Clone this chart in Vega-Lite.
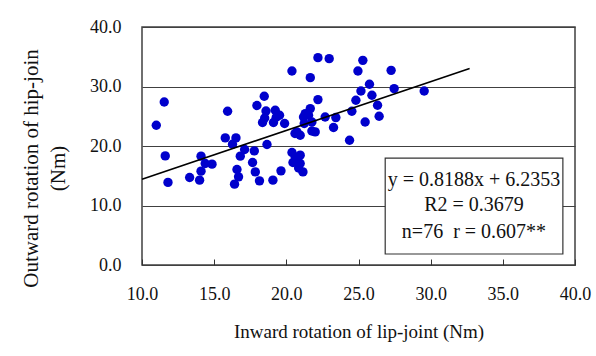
{
  "$schema": "https://vega.github.io/schema/vega-lite/v6.json",
  "width": 433,
  "height": 238,
  "autosize": {"type": "none"},
  "padding": {"left": 142, "top": 27, "right": 21, "bottom": 91},
  "background": "white",
  "config": {
    "font": "Liberation Serif",
    "view": {"stroke": "#404040", "strokeWidth": 1.5},
    "axis": {
      "labelFont": "Liberation Serif",
      "titleFont": "Liberation Serif",
      "labelFontSize": 18,
      "titleFontSize": 19,
      "labelColor": "#111",
      "titleColor": "#111",
      "titleFontWeight": "normal",
      "domain": false
    }
  },
  "datasets": {
    "points": [
      {"inward": 20.39, "outward": 32.6}, {"inward": 11.54, "outward": 27.4}, {"inward": 10.99, "outward": 23.49},
      {"inward": 15.93, "outward": 25.84}, {"inward": 18.47, "outward": 28.36}, {"inward": 17.96, "outward": 26.8},
      {"inward": 18.59, "outward": 25.89}, {"inward": 19.23, "outward": 26.0}, {"inward": 19.53, "outward": 25.17},
      {"inward": 18.35, "outward": 23.94}, {"inward": 19.11, "outward": 23.94}, {"inward": 19.88, "outward": 23.78},
      {"inward": 15.77, "outward": 21.36}, {"inward": 16.51, "outward": 21.36}, {"inward": 16.27, "outward": 20.3},
      {"inward": 18.66, "outward": 20.25}, {"inward": 11.61, "outward": 18.34}, {"inward": 14.09, "outward": 18.29},
      {"inward": 14.38, "outward": 17.06}, {"inward": 14.85, "outward": 16.95}, {"inward": 17.11, "outward": 19.41},
      {"inward": 17.78, "outward": 19.18}, {"inward": 16.81, "outward": 18.29}, {"inward": 17.66, "outward": 17.23},
      {"inward": 14.09, "outward": 15.77}, {"inward": 16.58, "outward": 16.06}, {"inward": 17.85, "outward": 15.65},
      {"inward": 19.63, "outward": 15.82}, {"inward": 20.39, "outward": 18.91}, {"inward": 20.46, "outward": 17.23},
      {"inward": 11.8, "outward": 13.88}, {"inward": 13.3, "outward": 14.71}, {"inward": 13.99, "outward": 14.26},
      {"inward": 16.69, "outward": 14.82}, {"inward": 16.41, "outward": 13.59}, {"inward": 18.14, "outward": 14.14},
      {"inward": 19.07, "outward": 14.26}, {"inward": 22.19, "outward": 34.85}, {"inward": 22.97, "outward": 34.68},
      {"inward": 21.66, "outward": 31.49}, {"inward": 25.3, "outward": 34.4}, {"inward": 24.96, "outward": 32.6},
      {"inward": 27.26, "outward": 32.72}, {"inward": 25.76, "outward": 30.37}, {"inward": 25.17, "outward": 29.24},
      {"inward": 27.47, "outward": 29.65}, {"inward": 29.55, "outward": 29.24}, {"inward": 25.93, "outward": 28.52},
      {"inward": 24.82, "outward": 27.68}, {"inward": 22.19, "outward": 27.8}, {"inward": 26.32, "outward": 26.85},
      {"inward": 24.54, "outward": 25.84}, {"inward": 21.66, "outward": 26.29}, {"inward": 21.31, "outward": 25.45},
      {"inward": 21.19, "outward": 24.88}, {"inward": 21.54, "outward": 25.17}, {"inward": 21.77, "outward": 24.04},
      {"inward": 22.69, "outward": 24.88}, {"inward": 23.43, "outward": 24.78}, {"inward": 26.43, "outward": 25.0},
      {"inward": 25.46, "outward": 24.04}, {"inward": 23.27, "outward": 23.1}, {"inward": 20.73, "outward": 22.37},
      {"inward": 20.96, "outward": 21.81}, {"inward": 21.77, "outward": 22.53}, {"inward": 22.0, "outward": 22.37},
      {"inward": 24.38, "outward": 20.97}, {"inward": 20.96, "outward": 18.46}, {"inward": 20.96, "outward": 17.06},
      {"inward": 21.15, "outward": 15.65}, {"inward": 21.24, "outward": 23.78}, {"inward": 20.62, "outward": 18.12},
      {"inward": 19.3, "outward": 24.83}, {"inward": 20.6, "outward": 22.1}, {"inward": 20.85, "outward": 16.3},
      {"inward": 18.5, "outward": 24.7}
    ],
    "trend": [
      {"inward": 10.0, "outward": 14.42},
      {"inward": 32.7, "outward": 33.01}
    ],
    "statsBox": [
      {"x1": 26.85, "x2": 39.16, "y1": 1.85, "y2": 17.95}
    ],
    "statsText": [
      {"inward": 33.0, "outward": 14.26, "label": "y = 0.8188x + 6.2353"},
      {"inward": 33.0, "outward": 10.07, "label": "R2 = 0.3679"},
      {"inward": 33.0, "outward": 5.54, "label": "n=76\u00a0\u00a0r = 0.607**"}
    ]
  },
  "layer": [
    {
      "data": {"name": "points"},
      "mark": {"type": "point", "filled": true, "opacity": 1, "size": 88, "color": "#0000cc"},
      "encoding": {
        "x": {
          "field": "inward", "type": "quantitative",
          "scale": {"domain": [10, 40], "nice": false, "zero": false},
          "axis": {
            "title": "Inward rotation of lip-joint (Nm)",
            "values": [10, 15, 20, 25, 30, 35, 40],
            "format": ".1f",
            "grid": false,
            "ticks": true,
            "tickSize": -6,
            "tickColor": "#333",
            "labelPadding": 26,
            "titlePadding": 19,
            "labelFlush": false
          }
        },
        "y": {
          "field": "outward", "type": "quantitative",
          "scale": {"domain": [0, 40], "nice": false},
          "axis": {
            "title": ["Outward rotation of hip-join", "(Nm)"],
            "titleFontSize": 21,
            "titleLineHeight": 27,
            "titleAngle": -90,
            "titleAlign": "center",
            "titleBaseline": "middle",
            "titleX": -111,
            "titleY": 141,
            "values": [0, 10, 20, 30, 40],
            "format": ".1f",
            "grid": true,
            "gridColor": "#404040",
            "gridWidth": 1,
            "gridOpacity": 1,
            "ticks": false,
            "labelPadding": 21
          }
        }
      }
    },
    {
      "data": {"name": "trend"},
      "mark": {"type": "line", "color": "black", "strokeWidth": 1.6},
      "encoding": {
        "x": {"field": "inward", "type": "quantitative"},
        "y": {"field": "outward", "type": "quantitative"}
      }
    },
    {
      "data": {"name": "statsBox"},
      "mark": {"type": "rect", "fill": "white", "stroke": "#333", "strokeWidth": 1.2},
      "encoding": {
        "x": {"field": "x1", "type": "quantitative"},
        "x2": {"field": "x2"},
        "y": {"field": "y1", "type": "quantitative"},
        "y2": {"field": "y2"}
      }
    },
    {
      "data": {"name": "statsText"},
      "mark": {"type": "text", "font": "Liberation Serif", "fontSize": 20, "color": "#111", "align": "center", "baseline": "middle"},
      "encoding": {
        "x": {"field": "inward", "type": "quantitative"},
        "y": {"field": "outward", "type": "quantitative"},
        "text": {"field": "label"}
      }
    }
  ]
}
